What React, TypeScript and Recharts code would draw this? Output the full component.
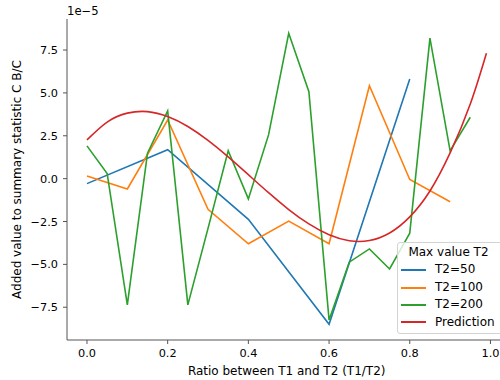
import { LineChart, Line, XAxis, YAxis, Legend, Label } from "recharts";

// y values are in units of 1e-5 (the axis offset text)
const xT2_50 = [0, 0.2, 0.4, 0.6, 0.8];
const yT2_50 = [-0.29, 1.69, -2.37, -8.49, 5.81];

const xT2_100 = [0, 0.1, 0.2, 0.3, 0.4, 0.5, 0.6, 0.7, 0.8, 0.9];
const yT2_100 = [0.16, -0.6, 3.42, -1.79, -3.8, -2.48, -3.8, 5.42, -0.05, -1.35];

const xT2_200 = [0, 0.05, 0.1, 0.15, 0.2, 0.25, 0.3, 0.35, 0.4, 0.45, 0.5, 0.55, 0.6, 0.65, 0.7, 0.75, 0.8, 0.85, 0.9, 0.95];
const yT2_200 = [1.91, 0.3, -7.36, 1.48, 3.95, -7.36, -2.9, 1.63, -1.18, 2.55, 8.48, 5.07, -8.24, -4.87, -4.1, -5.27, -3.18, 8.19, 1.62, 3.58];

const xPrediction = [0, 0.05, 0.1, 0.15, 0.2, 0.25, 0.3, 0.35, 0.4, 0.45, 0.5, 0.55, 0.6, 0.65, 0.7, 0.75, 0.8, 0.85, 0.9, 0.95, 0.99];
const yPrediction = [2.26, 3.3, 3.82, 3.91, 3.62, 3.04, 2.23, 1.27, 0.23, -0.82, -1.8, -2.64, -3.27, -3.62, -3.61, -3.17, -2.23, -0.72, 1.5, 4.35, 7.31];

const xTicks = [0, 0.2, 0.4, 0.6, 0.8, 1.0];
const yTicks = [-7.5, -5, -2.5, 0, 2.5, 5, 7.5];

const toPoints = (xs: number[], ys: number[]) => xs.map((x, i) => ({ x, y: ys[i] }));

const series = [
  { name: "T2=50", color: "#1f77b4", data: toPoints(xT2_50, yT2_50), curve: "linear" },
  { name: "T2=100", color: "#ff7f0e", data: toPoints(xT2_100, yT2_100), curve: "linear" },
  { name: "T2=200", color: "#2ca02c", data: toPoints(xT2_200, yT2_200), curve: "linear" },
  { name: "Prediction", color: "#d62728", data: toPoints(xPrediction, yPrediction), curve: "natural" },
];

const fmt = (v: number) => v.toFixed(1).replace("-", "\u2212");
const axisColor = "#555";

function LegendBox() {
  return (
    <div
      style={{
        boxSizing: "border-box",
        width: 106,
        height: 92,
        border: "1px solid #d4d4d4",
        borderRadius: 3,
        background: "rgba(255,255,255,0.8)",
        fontSize: 12,
        color: "#000",
        paddingTop: 1,
        lineHeight: "17.4px",
      }}
    >
      <div style={{ textAlign: "center", paddingRight: 3 }}>Max value T2</div>
      {series.map((s) => (
        <div key={s.name} style={{ display: "flex", alignItems: "center", paddingLeft: 3 }}>
          <span style={{ display: "inline-block", width: 25, height: 2, background: s.color, marginRight: 9 }} />
          <span>{s.name}</span>
        </div>
      ))}
    </div>
  );
}

export default function App() {
  return (
    <div
      style={{
        position: "absolute",
        left: 0,
        top: 0,
        width: 500,
        height: 380,
        overflow: "hidden",
        background: "#fff",
        fontFamily: "'DejaVu Sans', sans-serif",
      }}
    >
      <LineChart width={520} height={380} margin={{ top: 19, right: 13.6, bottom: 0, left: 0 }}>
        <XAxis
          dataKey="x"
          type="number"
          domain={[-0.0495, 1.0395]}
          allowDataOverflow
          ticks={xTicks}
          tickFormatter={fmt}
          height={40}
          tickSize={4}
          tickMargin={5}
          stroke={axisColor}
          tick={{ fill: "#000", fontSize: 11.3 }}
        >
          <Label value="Ratio between T1 and T2 (T1/T2)" position="insideBottom" offset={5} fill="#000" fontSize={12} />
        </XAxis>
        <XAxis
          xAxisId="top"
          orientation="top"
          type="number"
          domain={[-0.0495, 1.0395]}
          height={0}
          tick={false}
          tickLine={false}
          stroke={axisColor}
        />
        <YAxis
          type="number"
          domain={[-9.41, 9.31]}
          allowDataOverflow
          ticks={yTicks}
          tickFormatter={fmt}
          width={67}
          tickSize={4}
          tickMargin={5}
          stroke={axisColor}
          tick={{ fill: "#000", fontSize: 11.3 }}
        >
          <Label
            value="Added value to summary statistic C B/C"
            position="insideLeft"
            angle={-90}
            offset={17}
            fill="#000"
            fontSize={12}
            style={{ textAnchor: "middle" }}
          />
          <Label
            position="top"
            content={(props: any) => {
              const vb = props.viewBox || { x: 0, y: 19, width: 67 };
              return (
                <text x={vb.x + vb.width} y={vb.y - 4} fill="#000" fontSize={11.6}>
                  1e{"\u2212"}5
                </text>
              );
            }}
          />
        </YAxis>
        {series.map((s) => (
          <Line
            key={s.name}
            data={s.data}
            dataKey="y"
            name={s.name}
            type={s.curve as any}
            stroke={s.color}
            strokeWidth={1.6}
            dot={false}
            activeDot={false}
            isAnimationActive={false}
          />
        ))}
        <Legend
          layout="vertical"
          align="center"
          verticalAlign="middle"
          content={() => <LegendBox />}
          wrapperStyle={{ position: "absolute", left: 397, top: 242, width: 106, height: 92 }}
        />
      </LineChart>
    </div>
  );
}
